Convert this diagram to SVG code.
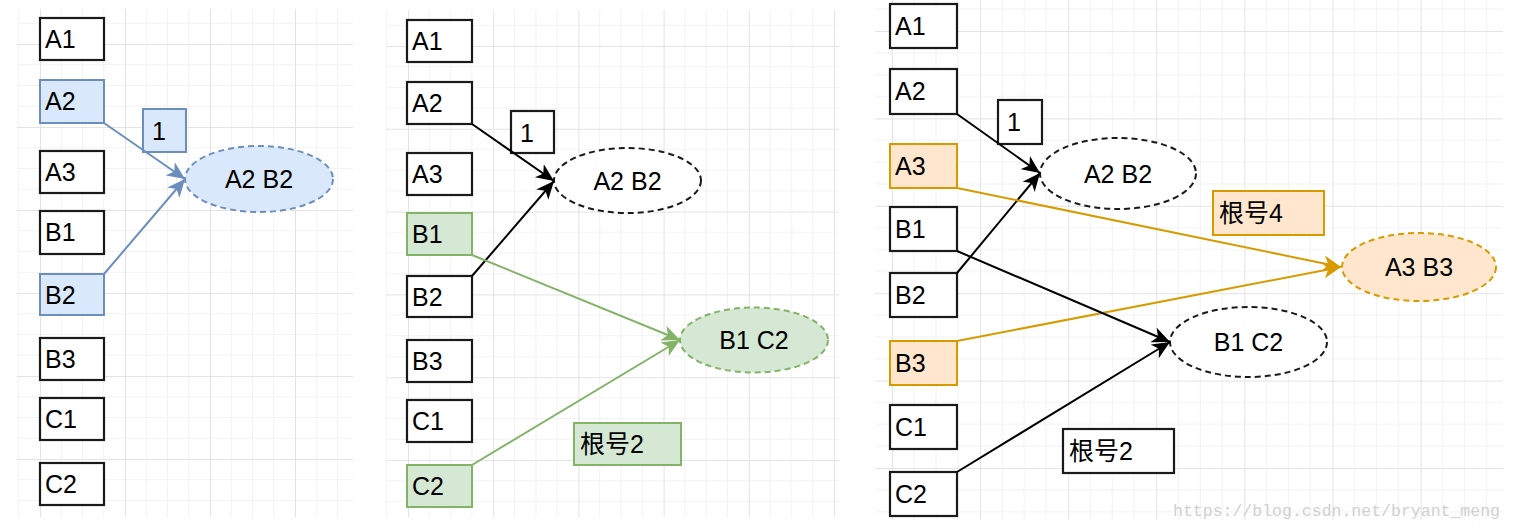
<svg xmlns="http://www.w3.org/2000/svg" width="1513" height="531" viewBox="0 0 1513 531">
<style>
.t{font-family:"Liberation Sans",Arial,"Noto Sans CJK SC",sans-serif;font-size:25px;fill:#000}
.c{text-anchor:middle}
.box{fill:#fff;stroke:#1a1a1a;stroke-width:2.2}
.bl{fill:#dae8fc;stroke:#6c8ebf;stroke-width:2}
.gr{fill:#d5e8d4;stroke:#82b366;stroke-width:2}
.or{fill:#ffe6cc;stroke:#d79b00;stroke-width:2}
.dash{stroke-dasharray:6 4}
.ek{fill:#fff;stroke:#1a1a1a;stroke-width:2}
.e{fill:none;stroke-width:2}
.mj{stroke:#e3e3e3;stroke-width:1}
.mn{stroke:#f2f2f2;stroke-width:1}
.wm{font-family:"Liberation Mono","DejaVu Sans Mono",monospace;font-size:16.5px;fill:#d0d0d0}
</style>
<defs>
<pattern id="g1" patternUnits="userSpaceOnUse" x="40" y="44" width="85" height="83">
<path class="mn" d="M21.25 0V83M42.5 0V83M63.75 0V83M0 20.75H85M0 41.5H85M0 62.25H85"/>
<path class="mj" d="M0.5 0V83M0 0.5H85"/>
</pattern>
<pattern id="g2" patternUnits="userSpaceOnUse" x="408" y="46" width="85.2" height="82.8">
<path class="mn" d="M21.3 0V82.8M42.6 0V82.8M63.9 0V82.8M0 20.7H85.2M0 41.4H85.2M0 62.1H85.2"/>
<path class="mj" d="M0.5 0V82.8M0 0.5H85.2"/>
</pattern>
<pattern id="g3" patternUnits="userSpaceOnUse" x="892" y="31" width="88.1" height="87.4">
<path class="mn" d="M22 0V87.4M44 0V87.4M66 0V87.4M0 21.85H88.1M0 43.7H88.1M0 65.55H88.1"/>
<path class="mj" d="M0.5 0V87.4M0 0.5H88.1"/>
</pattern>
<marker id="aB" markerUnits="userSpaceOnUse" viewBox="0 0 18 16" refX="18" refY="8" markerWidth="18" markerHeight="16" orient="auto"><path d="M0,0 L18,8 L0,16 L5,8 Z" fill="#6c8ebf"/></marker>
<marker id="aK" markerUnits="userSpaceOnUse" viewBox="0 0 18 16" refX="18" refY="8" markerWidth="18" markerHeight="16" orient="auto"><path d="M0,0 L18,8 L0,16 L5,8 Z" fill="#000"/></marker>
<marker id="aG" markerUnits="userSpaceOnUse" viewBox="0 0 18 16" refX="18" refY="8" markerWidth="18" markerHeight="16" orient="auto"><path d="M0,0 L18,8 L0,16 L5,8 Z" fill="#82b366"/></marker>
<marker id="aO" markerUnits="userSpaceOnUse" viewBox="0 0 18 16" refX="18" refY="8" markerWidth="18" markerHeight="16" orient="auto"><path d="M0,0 L18,8 L0,16 L5,8 Z" fill="#d79b00"/></marker>
</defs>
<rect width="1513" height="531" fill="#fff"/>
<g id="grid">
<rect x="17" y="9" width="336" height="508" fill="url(#g1)"/>
<rect x="386" y="10" width="453" height="507" fill="url(#g2)"/>
<rect x="875" y="0" width="628" height="520" fill="url(#g3)"/>
</g>

<!-- Panel 1 -->
<g id="p1-A1"><rect class="box" x="40" y="18" width="64" height="42"/><text class="t" x="45" y="48">A1</text></g>
<g id="p1-A2"><rect class="bl" x="40" y="80" width="64" height="43"/><text class="t" x="45" y="110">A2</text></g>
<g id="p1-A3"><rect class="box" x="40" y="151" width="64" height="42"/><text class="t" x="45" y="181">A3</text></g>
<g id="p1-B1"><rect class="box" x="40" y="211" width="64" height="43"/><text class="t" x="45" y="241">B1</text></g>
<g id="p1-B2"><rect class="bl" x="40" y="274" width="64" height="41"/><text class="t" x="45" y="304">B2</text></g>
<g id="p1-B3"><rect class="box" x="40" y="338" width="64" height="42"/><text class="t" x="45" y="368">B3</text></g>
<g id="p1-C1"><rect class="box" x="40" y="398" width="64" height="42"/><text class="t" x="45" y="428">C1</text></g>
<g id="p1-C2"><rect class="box" x="40" y="463" width="64" height="42"/><text class="t" x="45" y="493">C2</text></g>
<g id="p1-lab1"><rect class="bl" x="143" y="109" width="43" height="43"/><text class="t" x="152" y="140">1</text></g>
<g id="p1-A2B2"><ellipse class="bl dash" cx="259" cy="179" rx="74" ry="33"/><text class="t c" x="259" y="188">A2 B2</text></g>

<!-- Panel 2 -->
<g id="p2-A1"><rect class="box" x="407" y="20" width="65" height="42"/><text class="t" x="412" y="50">A1</text></g>
<g id="p2-A2"><rect class="box" x="407" y="82" width="65" height="42"/><text class="t" x="412" y="112">A2</text></g>
<g id="p2-A3"><rect class="box" x="407" y="153" width="65" height="42"/><text class="t" x="412" y="183">A3</text></g>
<g id="p2-B1"><rect class="gr" x="407" y="213" width="65" height="42"/><text class="t" x="412" y="243">B1</text></g>
<g id="p2-B2"><rect class="box" x="407" y="276" width="65" height="41"/><text class="t" x="412" y="306">B2</text></g>
<g id="p2-B3"><rect class="box" x="407" y="340" width="65" height="42"/><text class="t" x="412" y="370">B3</text></g>
<g id="p2-C1"><rect class="box" x="407" y="400" width="65" height="42"/><text class="t" x="412" y="430">C1</text></g>
<g id="p2-C2"><rect class="gr" x="407" y="465" width="65" height="42"/><text class="t" x="412" y="495">C2</text></g>
<g id="p2-lab1"><rect class="box" x="511" y="111" width="43" height="42"/><text class="t" x="520" y="142">1</text></g>
<g id="p2-A2B2"><ellipse class="ek dash" cx="627.5" cy="180.5" rx="73.5" ry="32.5"/><text class="t c" x="627.5" y="189.5">A2 B2</text></g>
<g id="p2-B1C2"><ellipse class="gr dash" cx="754" cy="340" rx="74" ry="32.5"/><text class="t c" x="754" y="349">B1 C2</text></g>
<g id="p2-lab2"><rect class="gr" x="574" y="423" width="107" height="42"/><text class="t" x="580" y="453">根号2</text></g>

<!-- Panel 3 -->
<g id="p3-A1"><rect class="box" x="890" y="4" width="67" height="44"/><text class="t" x="895" y="35">A1</text></g>
<g id="p3-A2"><rect class="box" x="890" y="69" width="67" height="45"/><text class="t" x="895" y="100">A2</text></g>
<g id="p3-A3"><rect class="or" x="890" y="144" width="67" height="44"/><text class="t" x="895" y="175">A3</text></g>
<g id="p3-B1"><rect class="box" x="890" y="207" width="67" height="44"/><text class="t" x="895" y="238">B1</text></g>
<g id="p3-B2"><rect class="box" x="890" y="273" width="67" height="44"/><text class="t" x="895" y="304">B2</text></g>
<g id="p3-B3"><rect class="or" x="890" y="341" width="67" height="44"/><text class="t" x="895" y="372">B3</text></g>
<g id="p3-C1"><rect class="box" x="890" y="405" width="67" height="44"/><text class="t" x="895" y="436">C1</text></g>
<g id="p3-C2"><rect class="box" x="890" y="472" width="67" height="44"/><text class="t" x="895" y="503">C2</text></g>
<g id="p3-lab1"><rect class="box" x="998" y="100" width="44" height="44"/><text class="t" x="1007" y="131">1</text></g>
<g id="p3-A2B2"><ellipse class="ek dash" cx="1118" cy="173.5" rx="78" ry="35.5"/><text class="t c" x="1118" y="182.5">A2 B2</text></g>
<g id="p3-lab4"><rect class="or" x="1213" y="191" width="111" height="44"/><text class="t" x="1219" y="222">根号4</text></g>
<g id="p3-A3B3"><ellipse class="or dash" cx="1419" cy="267" rx="77" ry="34"/><text class="t c" x="1419" y="276">A3 B3</text></g>
<g id="p3-B1C2"><ellipse class="ek dash" cx="1248.5" cy="342" rx="78.5" ry="35"/><text class="t c" x="1248.5" y="351">B1 C2</text></g>
<g id="p3-lab2"><rect class="box" x="1063" y="429" width="111" height="44"/><text class="t" x="1069" y="460">根号2</text></g>

<g id="connectors">
<path class="e" stroke="#6c8ebf" d="M104,123 L185,179" marker-end="url(#aB)"/>
<path class="e" stroke="#6c8ebf" d="M104,274 L185,179" marker-end="url(#aB)"/>
<path class="e" stroke="#000" d="M472,124 L554,181" marker-end="url(#aK)"/>
<path class="e" stroke="#000" d="M472,276 L554,181" marker-end="url(#aK)"/>
<path class="e" stroke="#82b366" d="M472,255 L680,340" marker-end="url(#aG)"/>
<path class="e" stroke="#82b366" d="M472,465 L680,340" marker-end="url(#aG)"/>
<path class="e" stroke="#000" d="M957,114 L1040,173" marker-end="url(#aK)"/>
<path class="e" stroke="#000" d="M957,273 L1040,173" marker-end="url(#aK)"/>
<path class="e" stroke="#d79b00" d="M957,188 L1341,267" marker-end="url(#aO)"/>
<path class="e" stroke="#d79b00" d="M957,341 L1341,267" marker-end="url(#aO)"/>
<path class="e" stroke="#000" d="M957,251 L1170,342" marker-end="url(#aK)"/>
<path class="e" stroke="#000" d="M957,472 L1170,342" marker-end="url(#aK)"/>
</g>
<text class="wm" x="1173" y="516" textLength="327" lengthAdjust="spacingAndGlyphs">https://blog.csdn.net/bryant_meng</text>
</svg>
